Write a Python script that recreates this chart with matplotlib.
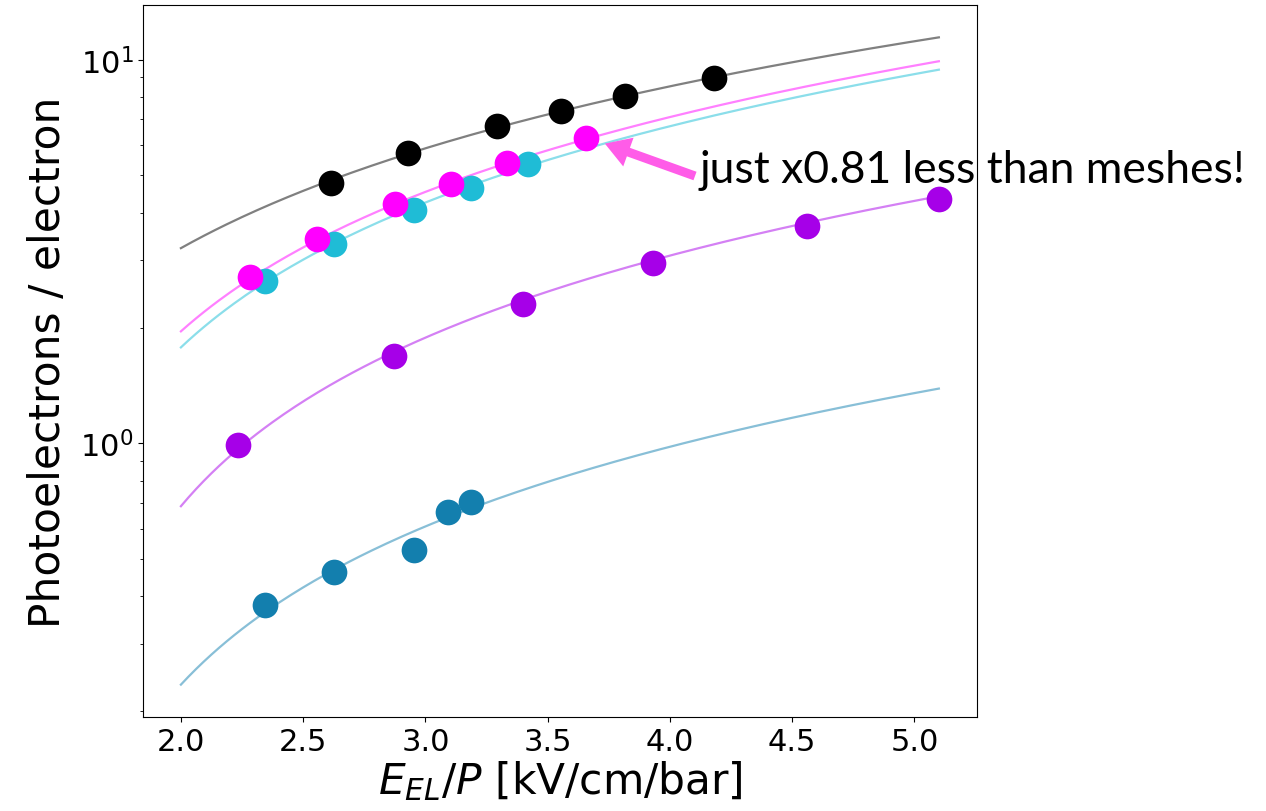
import numpy as np
import matplotlib
matplotlib.use("Agg")
import matplotlib.pyplot as plt

# ---- data ----
black_x = [2.613, 2.927, 3.291, 3.553, 3.816, 4.181]
black_y = [4.78, 5.72, 6.73, 7.38, 8.05, 8.96]

magenta_x = [2.283, 2.557, 2.876, 3.106, 3.333, 3.655]
magenta_y = [2.71, 3.41, 4.21, 4.74, 5.40, 6.25]

cyan_x = [2.344, 2.625, 2.952, 3.186, 3.420]
cyan_y = [2.65, 3.32, 4.06, 4.63, 5.36]

purple_x = [2.232, 2.871, 3.400, 3.932, 4.560, 5.101]
purple_y = [0.99, 1.69, 2.31, 2.95, 3.68, 4.35]

blue_x = [2.344, 2.625, 2.952, 3.093, 3.186]
blue_y = [0.379, 0.463, 0.526, 0.661, 0.703]

# linear fits: value at E/P = 2.0 and at E/P = 5.1
fit_range = [2.0, 5.1]
fit_black = [3.23, 11.45]
fit_magenta = [1.96, 9.92]
fit_cyan = [1.78, 9.43]
fit_purple = [0.686, 4.41]
fit_blue = [0.235, 1.39]

xticks = [2.0, 2.5, 3.0, 3.5, 4.0, 4.5, 5.0]
annot_text = "just x0.81 less than meshes!"
arrow_target = (3.734, 6.05)

# ---- figure ----
W, H = 1266, 812
fig = plt.figure(figsize=(W / 100, H / 100), dpi=100)
ax = fig.add_axes([143 / W, 1 - 718 / H, (977 - 143) / W, (718 - 6) / H])
ax.set_yscale("log")

series = [
    (fit_black, black_x, black_y, "black", "#808080"),
    (fit_cyan, cyan_x, cyan_y, "#1fbcd6", "#8bdeea"),
    (fit_magenta, magenta_x, magenta_y, "#ff00ff", "#ff80ff"),
    (fit_purple, purple_x, purple_y, "#a600e8", "#d480f4"),
    (fit_blue, blue_x, blue_y, "#137fae", "#88bfd7"),
]

xs = np.linspace(fit_range[0], fit_range[1], 200)
for fit, px, py, mc, lc in series:
    slope = (fit[1] - fit[0]) / (fit_range[1] - fit_range[0])
    ax.plot(xs, fit[0] + slope * (xs - fit_range[0]), color=lc, lw=1.6, zorder=2)
for fit, px, py, mc, lc in series:
    ax.plot(px, py, "o", color=mc, ms=18.5, mec="none", zorder=3)

ax.set_xticks(xticks)
ax.tick_params(axis="both", which="major", labelsize=22)
ax.set_xlabel(r"$E_{EL}/P$ [kV/cm/bar]", fontsize=30.5, labelpad=2)
ax.set_ylabel("Photoelectrons / electron", fontsize=30.5, labelpad=8)

# annotation (arrow + text)
ax.annotate("", xy=arrow_target, xycoords="data",
            xytext=(695, H - 177), textcoords="figure pixels",
            arrowprops=dict(facecolor="#ff5ce8", edgecolor="none",
                            width=6.5, headwidth=22, headlength=18, shrink=0),
            annotation_clip=False)
fig.text(700 / W, 1 - 183 / H, annot_text, fontsize=32,
         family=["Lato", "DejaVu Sans"], ha="left", va="baseline")

fig.savefig("out.png", dpi=100)
